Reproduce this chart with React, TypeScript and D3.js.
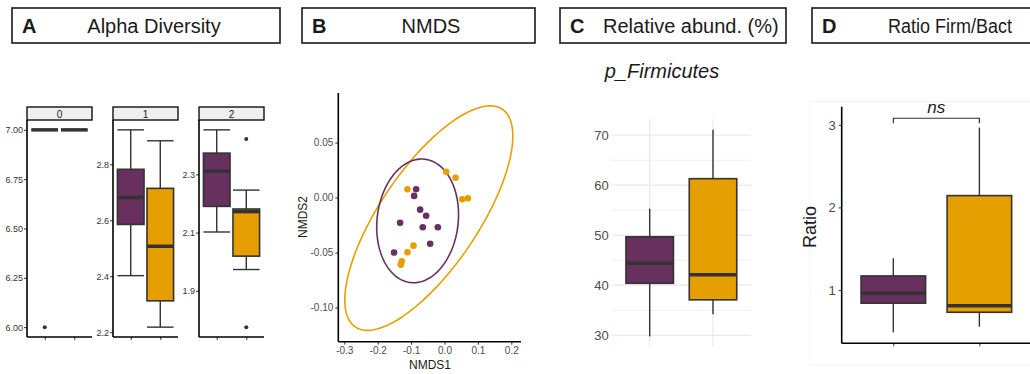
import React, { useEffect, useRef } from 'react';
import * as d3 from 'd3';

const FONT = "'Liberation Sans', Arial, sans-serif";
const PURPLE = '#67305f';
const ORANGE = '#e69f00';
const INK = '#333333';
const GREY_TEXT = '#4d4d4d';

// header boxes
const panelLetters = ['A', 'B', 'C', 'D'];
const panelTitles = ['Alpha Diversity', 'NMDS', 'Relative abund. (%)', 'Ratio Firm/Bact'];

// A: alpha diversity, one facet per level
// each box: [lower whisker, q1, median, q3, upper whisker]
const alphaFacets = ['0', '1', '2'];
const alphaPurple = [
  [7.0, 7.0, 7.0, 7.0, 7.0],
  [2.402, 2.585, 2.681, 2.782, 2.923],
  [2.102, 2.19, 2.311, 2.373, 2.453],
];
const alphaOrange = [
  [7.0, 7.0, 7.0, 7.0, 7.0],
  [2.218, 2.312, 2.507, 2.714, 2.884],
  [1.973, 2.019, 2.172, 2.181, 2.246],
];
const alphaPurpleOutliers = [[6.0], [], []];
const alphaOrangeOutliers = [[], [], [2.422, 1.775]];
const alphaTicks = [
  [6.0, 6.25, 6.5, 6.75, 7.0],
  [2.2, 2.4, 2.6, 2.8],
  [1.9, 2.1, 2.3],
];
const alphaDecimals = [2, 1, 1];

// B: NMDS scores
const nmdsPurpleX = [-0.085, -0.091, -0.073, -0.055, -0.133, -0.065, -0.02, -0.043, -0.151];
const nmdsPurpleY = [0.0075, 0.0015, -0.011, -0.0166, -0.023, -0.027, -0.027, -0.042, -0.05];
const nmdsOrangeX = [0.005, 0.033, -0.111, 0.053, 0.07, -0.093, -0.111, -0.128, -0.131];
const nmdsOrangeY = [0.0235, 0.018, 0.0075, -0.0015, -0.0006, -0.0437, -0.0497, -0.058, -0.061];
// ellipse: [centre x, centre y, half width, half height, correlation]
const ellipsePurple = [-0.0805, -0.0212, 0.1225, 0.0562, 0.1];
const ellipseOrange = [-0.047, -0.0187, 0.2515, 0.102, 0.73];
const nmdsXDomain = [-0.318, 0.229];
const nmdsYDomain = [-0.131, 0.095];
const nmdsXTicks = [-0.3, -0.2, -0.1, 0.0, 0.1, 0.2];
const nmdsYTicks = [-0.1, -0.05, 0.0, 0.05];

// C: p_Firmicutes relative abundance
const firmPurple = [29.8, 40.4, 44.4, 49.7, 55.3];
const firmOrange = [34.2, 37.1, 42.1, 61.3, 71.1];
const firmTicks = [30, 40, 50, 60, 70];
const firmMinorTicks = [35, 45, 55, 65];

// D: Firmicutes / Bacteroidetes ratio
const ratioPurple = [0.487, 0.84, 0.96, 1.17, 1.384];
const ratioOrange = [0.555, 0.73, 0.81, 2.143, 2.967];
const ratioTicks = [1, 2, 3];
const ratioDomain = [0.354, 3.22];
const ratioBracket = 3.08;
const ratioSignif = 'ns';

type Sel = d3.Selection<SVGGElement, unknown, null, undefined>;

// draws one boxplot at discrete position `pos`
const drawBox = (
  g: Sel,
  x: d3.ScaleLinear<number, number>,
  y: d3.ScaleLinear<number, number>,
  pos: number,
  halfWidth: number,
  stats: number[],
  fill: string,
  caps: boolean
) => {
  const [lo, q1, med, q3, hi] = stats;
  const cx = x(pos);
  const x0 = x(pos - halfWidth);
  const x1 = x(pos + halfWidth);
  const whisker = (ya: number, yb: number) =>
    g.append('line')
      .attr('x1', cx).attr('x2', cx)
      .attr('y1', y(ya)).attr('y2', y(yb))
      .attr('stroke', INK).attr('stroke-width', 1.4);
  whisker(hi, q3);
  whisker(q1, lo);
  if (caps) {
    [lo, hi].forEach((v) => {
      g.append('line')
        .attr('x1', x0).attr('x2', x1)
        .attr('y1', y(v)).attr('y2', y(v))
        .attr('stroke', INK).attr('stroke-width', 1.4);
    });
  }
  g.append('rect')
    .attr('x', x0).attr('y', y(q3))
    .attr('width', x1 - x0).attr('height', y(q1) - y(q3))
    .attr('fill', fill).attr('stroke', INK).attr('stroke-width', 1.6);
  g.append('line')
    .attr('x1', x0).attr('x2', x1)
    .attr('y1', y(med)).attr('y2', y(med))
    .attr('stroke', INK).attr('stroke-width', 3.5);
};

const styleAxis = (axisG: Sel, size: number, color: string) => {
  axisG.select('.domain').remove();
  axisG.selectAll('line').attr('stroke', INK);
  axisG.selectAll('text')
    .attr('font-size', size)
    .attr('font-family', FONT)
    .attr('fill', color);
};

const App = () => {
  const svgRef = useRef<SVGSVGElement | null>(null);

  useEffect(() => {
    const svg = d3.select(svgRef.current);
    svg.selectAll('*').remove();
    svg.attr('width', 1030).attr('height', 374).style('font-family', FONT);

    // ---- header boxes ----
    const hx0 = [12, 302, 560, 812];
    const hx1 = [280, 535, 786, 1040];
    const titleX = [154, 431, 603, 888];
    const titleAnchor = ['middle', 'middle', 'start', 'start'];
    const header = svg.append('g');
    panelLetters.forEach((letter, i) => {
      header.append('rect')
        .attr('x', hx0[i]).attr('y', 8)
        .attr('width', hx1[i] - hx0[i]).attr('height', 35)
        .attr('fill', '#fff').attr('stroke', '#1a1a1a').attr('stroke-width', 1.6);
      header.append('text')
        .attr('x', hx0[i] + 10).attr('y', 33)
        .attr('font-size', 20).attr('font-weight', 'bold').attr('fill', '#1a1a1a')
        .text(letter);
      const t = header.append('text')
        .attr('x', titleX[i]).attr('y', 33)
        .attr('font-size', 20).attr('fill', '#1a1a1a')
        .attr('text-anchor', titleAnchor[i])
        .text(panelTitles[i]);
      if (i === 3) t.attr('textLength', 124).attr('lengthAdjust', 'spacingAndGlyphs');
    });

    // ---- A: alpha diversity facets ----
    const facetLeft = [27, 113, 199];
    const facetW = 65;
    const panelTop = 120;
    const panelBottom = 337;
    const gA = svg.append('g');
    alphaFacets.forEach((facet, i) => {
      const left = facetLeft[i];
      const x = d3.scaleLinear().domain([0.4, 2.6]).range([left, left + facetW]);
      const vals = [...alphaPurple[i], ...alphaOrange[i], ...alphaPurpleOutliers[i], ...alphaOrangeOutliers[i]];
      const [mn, mx] = d3.extent(vals) as [number, number];
      const pad = (mx - mn) * 0.05;
      const y = d3.scaleLinear().domain([mn - pad, mx + pad]).range([panelBottom, panelTop]);

      // strip
      gA.append('rect')
        .attr('x', left).attr('y', 107).attr('width', facetW).attr('height', 13)
        .attr('fill', '#efeef0').attr('stroke', '#111').attr('stroke-width', 1.4);
      gA.append('text')
        .attr('x', left + facetW / 2).attr('y', 117.5)
        .attr('text-anchor', 'middle').attr('font-size', 10).attr('fill', '#1a1a1a')
        .text(facet);

      const yAxis = gA.append('g')
        .attr('transform', `translate(${left},0)`)
        .call(
          d3.axisLeft(y).tickValues(alphaTicks[i]).tickSize(3).tickPadding(1)
            .tickFormat((d) => (+d).toFixed(alphaDecimals[i]))
        );
      styleAxis(yAxis, 9, INK);

      const xAxis = gA.append('g')
        .attr('transform', `translate(0,${panelBottom})`)
        .call(d3.axisBottom(x).tickValues([1, 2]).tickSize(3).tickFormat(() => ''));
      styleAxis(xAxis, 9, INK);

      drawBox(gA, x, y, 1, 0.45, alphaPurple[i], PURPLE, true);
      drawBox(gA, x, y, 2, 0.45, alphaOrange[i], ORANGE, true);
      alphaPurpleOutliers[i].forEach((v) => {
        gA.append('circle').attr('cx', x(1)).attr('cy', y(v)).attr('r', 2).attr('fill', INK);
      });
      alphaOrangeOutliers[i].forEach((v) => {
        gA.append('circle').attr('cx', x(2)).attr('cy', y(v)).attr('r', 2).attr('fill', INK);
      });

      // axis lines
      gA.append('line')
        .attr('x1', left).attr('x2', left).attr('y1', panelTop).attr('y2', panelBottom)
        .attr('stroke', '#000').attr('stroke-width', 1.6);
      gA.append('line')
        .attr('x1', left).attr('x2', left + facetW).attr('y1', panelBottom).attr('y2', panelBottom)
        .attr('stroke', '#000').attr('stroke-width', 1.6);
    });

    // ---- B: NMDS ----
    const gB = svg.append('g');
    const bx = d3.scaleLinear().domain(nmdsXDomain).range([338.3, 521]);
    const by = d3.scaleLinear().domain(nmdsYDomain).range([341.7, 93]);
    const drawEllipse = (e: number[], color: string) => {
      const [ex, ey, a, b, rho] = e;
      const ts = d3.range(0, Math.PI * 2, Math.PI / 90);
      const line = d3.line<number>()
        .x((t) => bx(ex + a * Math.cos(t)))
        .y((t) => by(ey + b * (rho * Math.cos(t) + Math.sqrt(1 - rho * rho) * Math.sin(t))))
        .curve(d3.curveLinearClosed);
      gB.append('path').attr('d', line(ts)).attr('fill', 'none')
        .attr('stroke', color).attr('stroke-width', 1.6);
    };
    drawEllipse(ellipseOrange, ORANGE);
    drawEllipse(ellipsePurple, PURPLE);

    nmdsOrangeX.forEach((v, i) => {
      gB.append('circle').attr('cx', bx(v)).attr('cy', by(nmdsOrangeY[i])).attr('r', 3.3).attr('fill', ORANGE);
    });
    nmdsPurpleX.forEach((v, i) => {
      gB.append('circle').attr('cx', bx(v)).attr('cy', by(nmdsPurpleY[i])).attr('r', 3.3).attr('fill', PURPLE);
    });

    const bYAxis = gB.append('g').attr('transform', 'translate(338.3,0)')
      .call(d3.axisLeft(by).tickValues(nmdsYTicks).tickSize(3).tickPadding(2)
        .tickFormat((d) => (+d).toFixed(2)));
    styleAxis(bYAxis, 10, GREY_TEXT);
    const bXAxis = gB.append('g').attr('transform', 'translate(0,341.7)')
      .call(d3.axisBottom(bx).tickValues(nmdsXTicks).tickSize(3).tickPadding(2)
        .tickFormat((d) => (+d).toFixed(1)));
    styleAxis(bXAxis, 10, GREY_TEXT);
    gB.append('line').attr('x1', 338.3).attr('x2', 338.3).attr('y1', 93).attr('y2', 341.7)
      .attr('stroke', '#000').attr('stroke-width', 1.6);
    gB.append('line').attr('x1', 338.3).attr('x2', 521).attr('y1', 341.7).attr('y2', 341.7)
      .attr('stroke', '#000').attr('stroke-width', 1.6);
    gB.append('text').attr('x', 430).attr('y', 369).attr('text-anchor', 'middle')
      .attr('font-size', 12).attr('fill', '#1a1a1a').text('NMDS1');
    gB.append('text').attr('transform', 'translate(307,217) rotate(-90)')
      .attr('text-anchor', 'middle').attr('font-size', 12).attr('fill', '#1a1a1a').text('NMDS2');

    // ---- C: p_Firmicutes ----
    const gC = svg.append('g');
    const cx = d3.scaleLinear().domain([0.4, 2.6]).range([611.7, 751]);
    const [cmn, cmx] = d3.extent([...firmPurple, ...firmOrange]) as [number, number];
    const cpad = (cmx - cmn) * 0.05;
    const cy = d3.scaleLinear().domain([cmn - cpad, cmx + cpad]).range([346.7, 119.3]);
    firmMinorTicks.forEach((v) => {
      gC.append('line').attr('x1', 611.7).attr('x2', 751).attr('y1', cy(v)).attr('y2', cy(v))
        .attr('stroke', '#ebebeb').attr('stroke-width', 0.8);
    });
    firmTicks.forEach((v) => {
      gC.append('line').attr('x1', 611.7).attr('x2', 751).attr('y1', cy(v)).attr('y2', cy(v))
        .attr('stroke', '#ebebeb').attr('stroke-width', 1.4);
    });
    [1, 2].forEach((v) => {
      gC.append('line').attr('x1', cx(v)).attr('x2', cx(v)).attr('y1', 119.3).attr('y2', 346.7)
        .attr('stroke', '#ebebeb').attr('stroke-width', 1.4);
    });
    drawBox(gC, cx, cy, 1, 0.375, firmPurple, PURPLE, false);
    drawBox(gC, cx, cy, 2, 0.375, firmOrange, ORANGE, false);
    const cYAxis = gC.append('g').attr('transform', 'translate(611.7,0)')
      .call(d3.axisLeft(cy).tickValues(firmTicks).tickSize(0).tickPadding(3));
    styleAxis(cYAxis, 13, GREY_TEXT);
    gC.append('text').attr('x', 662).attr('y', 78).attr('text-anchor', 'middle')
      .attr('font-size', 20).attr('font-style', 'italic').attr('fill', '#1a1a1a')
      .text('p_Firmicutes');

    // ---- D: ratio ----
    const gD = svg.append('g');
    gD.append('rect').attr('x', 810).attr('y', 101.7).attr('width', 240).attr('height', 263.3)
      .attr('fill', '#fff').attr('stroke', '#f3f3f3').attr('stroke-width', 1);
    const dx = d3.scaleLinear().domain([0.4, 2.6]).range([841.7, 1031]);
    const dy = d3.scaleLinear().domain(ratioDomain).range([343.3, 106.7]);
    drawBox(gD, dx, dy, 1, 0.375, ratioPurple, PURPLE, false);
    drawBox(gD, dx, dy, 2, 0.375, ratioOrange, ORANGE, false);
    const dYAxis = gD.append('g').attr('transform', 'translate(841.7,0)')
      .call(d3.axisLeft(dy).tickValues(ratioTicks).tickSize(3).tickPadding(3)
        .tickFormat((d) => String(d)));
    styleAxis(dYAxis, 13, GREY_TEXT);
    const dXAxis = gD.append('g').attr('transform', 'translate(0,343.3)')
      .call(d3.axisBottom(dx).tickValues([1, 2]).tickSize(3).tickFormat(() => ''));
    styleAxis(dXAxis, 13, GREY_TEXT);
    gD.append('line').attr('x1', 841.7).attr('x2', 841.7).attr('y1', 106.7).attr('y2', 343.3)
      .attr('stroke', '#000').attr('stroke-width', 1.6);
    gD.append('line').attr('x1', 841.7).attr('x2', 1031).attr('y1', 343.3).attr('y2', 343.3)
      .attr('stroke', '#000').attr('stroke-width', 1.6);
    // significance bracket
    const by0 = dy(ratioBracket);
    gD.append('path')
      .attr('d', `M${dx(1)},${by0 + 5}V${by0}H${dx(2)}V${by0 + 5}`)
      .attr('fill', 'none').attr('stroke', INK).attr('stroke-width', 1.2);
    gD.append('text').attr('x', (dx(1) + dx(2)) / 2).attr('y', by0 - 5.5)
      .attr('text-anchor', 'middle').attr('font-size', 17).attr('font-style', 'italic')
      .attr('fill', '#1a1a1a').text(ratioSignif);
    gD.append('text').attr('transform', 'translate(816,227) rotate(-90)')
      .attr('text-anchor', 'middle').attr('font-size', 18).attr('fill', '#1a1a1a').text('Ratio');
  }, []);

  return (
    <div style={{ position: 'absolute', left: 0, top: 0, background: '#fff' }}>
      <svg ref={svgRef} style={{ display: 'block' }}></svg>
    </div>
  );
};

export default App;
